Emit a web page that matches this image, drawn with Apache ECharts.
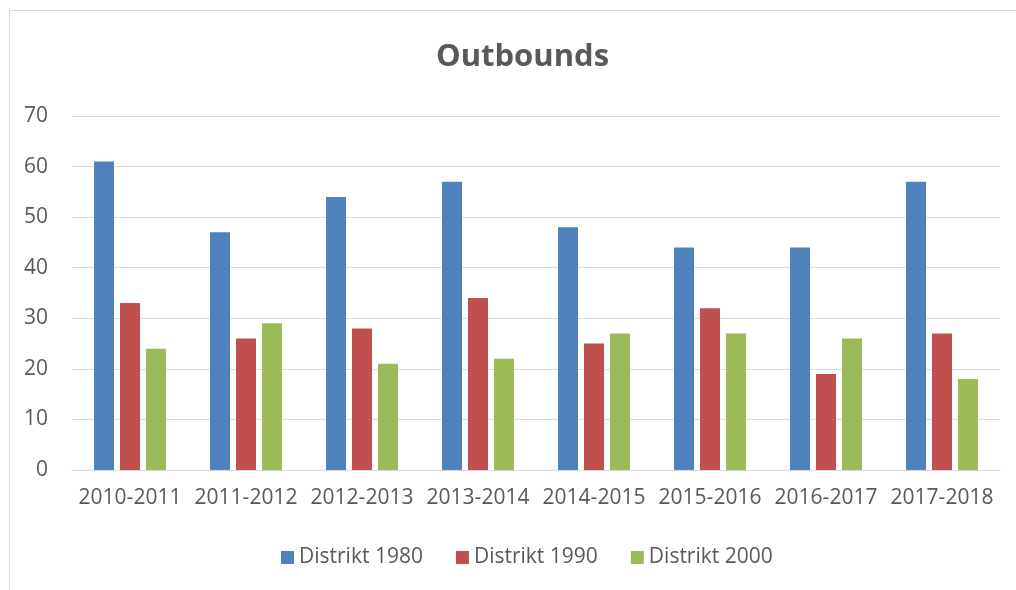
<!DOCTYPE html>
<html>
<head>
<meta charset="utf-8">
<script src="https://cdn.jsdelivr.net/npm/echarts@6/dist/echarts.min.js"></script>
<style>
html,body{margin:0;padding:0;background:#fff;}
#c{width:1016px;height:590px;}
</style>
</head>
<body>
<div id="c"></div>
<script>
var categories = ['2010-2011','2011-2012','2012-2013','2013-2014','2014-2015','2015-2016','2016-2017','2017-2018'];
var seriesNames = ['Distrikt 1980','Distrikt 1990','Distrikt 2000'];
var d1980 = [61,47,54,57,48,44,44,57];
var d1990 = [33,26,28,34,25,32,19,27];
var d2000 = [24,29,21,22,27,27,26,18];
var yTicks = {min:0,max:70,interval:10};

var font = '"Open Sans", "Liberation Sans", sans-serif';
var chart = echarts.init(document.getElementById('c'));
var colors = ['#4F81BD','#C0504D','#9BBB59'];
var data = [d1980,d1990,d2000];
chart.setOption({
  animation:false,
  color:colors,
  graphic:[{type:'rect',shape:{x:9.5,y:10.5,width:1100,height:700},style:{fill:'none',stroke:'#d9d9d9',lineWidth:1},silent:true,z:-1}],
  title:{text:'Outbounds',left:431,top:37,textStyle:{fontFamily:font,fontSize:31,fontWeight:'bold',color:'#595959'}},
  legend:{bottom:17,left:276,itemWidth:13,itemHeight:13,itemGap:33,icon:'rect',
    textStyle:{fontFamily:font,fontSize:21,color:'#595959'},data:seriesNames},
  grid:{left:72,right:16,top:116,bottom:120,containLabel:false},
  xAxis:{type:'category',data:categories,
    axisLine:{lineStyle:{color:'#d9d9d9',width:1}},axisTick:{show:false},
    axisLabel:{fontFamily:font,fontSize:21,color:'#595959',margin:18,interval:0}},
  yAxis:{type:'value',min:yTicks.min,max:yTicks.max,interval:yTicks.interval,
    axisLine:{show:false},axisTick:{show:false},
    splitLine:{lineStyle:{color:'#d9d9d9',width:1}},
    axisLabel:{fontFamily:font,fontSize:21,color:'#595959',margin:24}},
  series:seriesNames.map(function(n,i){return {name:n,type:'bar',data:data[i],barGap:'30%',barCategoryGap:'38%'};})
});
</script>
</body>
</html>
